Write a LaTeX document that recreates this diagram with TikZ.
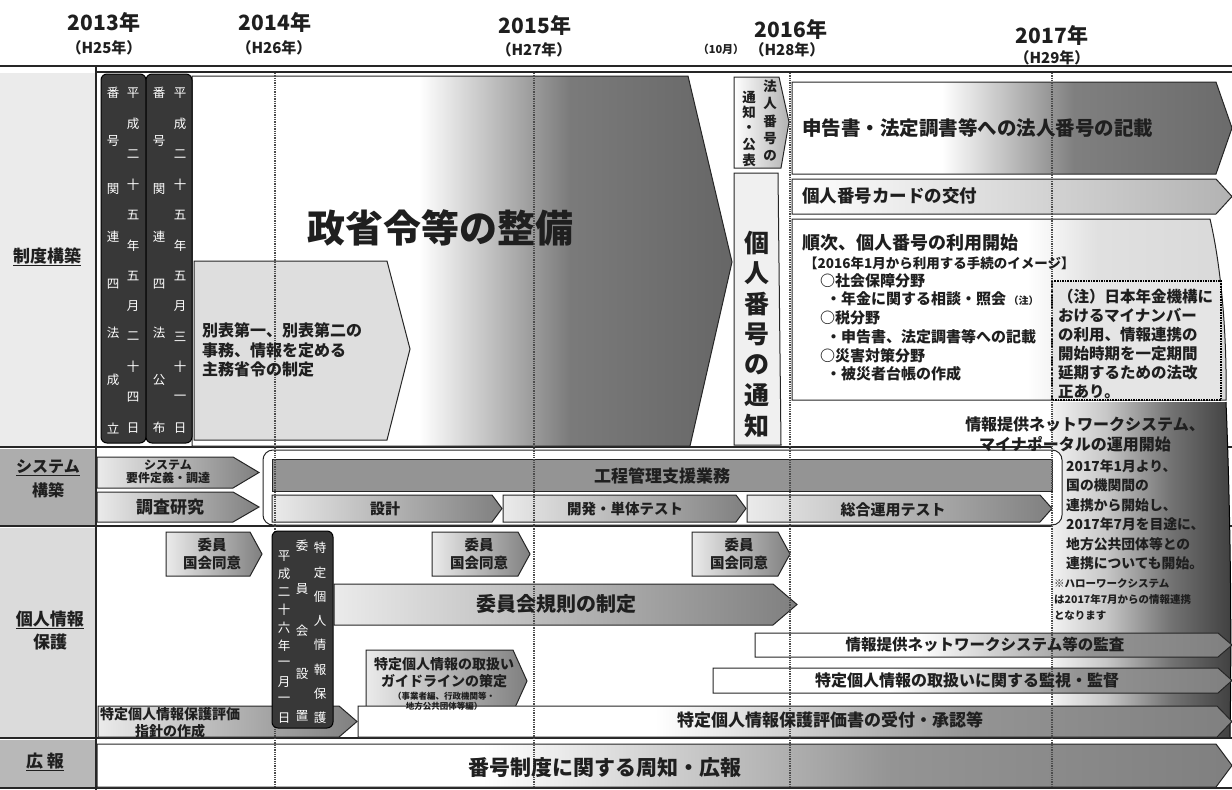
\documentclass[tikz,border=0pt]{standalone}
\usepackage{fontspec}
\setmainfont{Noto Sans CJK JP}
\newcommand\fsz[1]{\fontsize{#1pt}{#1pt}\selectfont}
\newcommand\fsl[2]{\fontsize{#1pt}{#2pt}\selectfont}
\pgfdeclarehorizontalshading{shbig}{100bp}{color(0bp)=(white); color(25bp)=(white); color(46bp)=(white); color(60bp)=(black!52); color(75bp)=(black!60); color(100bp)=(black!60)}
\pgfdeclarehorizontalshading{shsk}{100bp}{color(0bp)=(white); color(25bp)=(white); color(42bp)=(white); color(57bp)=(black!50); color(75bp)=(black!58); color(100bp)=(black!58)}
\pgfdeclarehorizontalshading{shlt}{100bp}{color(0bp)=(white); color(25bp)=(white); color(75bp)=(black!30); color(100bp)=(black!30)}
\pgfdeclarehorizontalshading{shmd}{100bp}{color(0bp)=(white); color(25bp)=(black!8); color(75bp)=(black!50); color(100bp)=(black!50)}
\pgfdeclarehorizontalshading{shlong}{100bp}{color(0bp)=(white); color(25bp)=(white); color(42bp)=(white); color(60bp)=(black!42); color(75bp)=(black!50); color(100bp)=(black!50)}
\pgfdeclarehorizontalshading{shjun}{100bp}{color(0bp)=(white); color(25bp)=(white); color(52bp)=(white); color(60bp)=(black!12); color(75bp)=(black!15); color(100bp)=(black!15)}
\pgfdeclarehorizontalshading{shdark}{100bp}{color(0bp)=(white); color(25bp)=(white!95!black); color(40bp)=(black!22); color(58bp)=(black!55); color(75bp)=(black!75); color(100bp)=(black!75)}
\newcommand\arr[6]{\path[#6] (#1,#2) -- ({#3-#5},#2) -- (#3,{(#2+#4)/2}) -- ({#3-#5},#4) -- (#1,#4) -- cycle;}
\newcommand\vcol[6]{\foreach \c [count=\i] in {#6}{\node[#5] (#1\i) at (#2,{#3+(\i-1)*#4}) {\c};}}
\begin{document}
\begin{tikzpicture}[x=1pt,y=-1pt,
  box/.style={draw=black!85, line width=1pt},
  dk/.style={draw=black, fill=black!78, rounded corners=6pt, line width=1pt},
  gridl/.style={densely dotted, line width=1.3pt, black!70},
  rowl/.style={line width=1.2pt, black!85},
  t/.style={inner sep=0pt, text=black!88},
  vt/.style={inner sep=0pt, text=white, font=\fsz{12.5}},
  vtb/.style={inner sep=0pt, text=black!88, font=\bfseries\fsz{13.5}},
]
\useasboundingbox (0,0) rectangle (1232,790);
\fill[white] (0,0) rectangle (1232,790);
% label column
\fill[black!8] (0,73) rectangle (95,446);
\fill[black!32] (0,449) rectangle (95,525);
\fill[black!14] (0,528) rectangle (95,737);
\fill[black!28] (0,740) rectangle (95,787);
% row lines
\draw[line width=2.4pt, black!85] (0,66) -- (1232,66);
\draw[rowl] (96,72) -- (1232,72);
\draw[rowl] (96,66) -- (96,790);
\draw[rowl] (0,447) -- (1232,447);
\draw[rowl] (0,526) -- (1232,526);
\draw[rowl] (0,738) -- (1232,738);
\draw[rowl] (0,788) -- (1232,788);
% seido
\path[box, shade, shading=shbig] (192,76) -- (688,76) -- (732,262) -- (690,446) -- (192,446) -- cycle;
\path[box, fill=black!13] (194,261) -- (387,261) -- (410,349) -- (387,440) -- (194,440) -- cycle;
\path[box, shade, shading=shlt] (734,77) -- (779,77) -- (789,122) -- (781,168) -- (734,168) -- cycle;
\path[box, fill=black!6] (734,173) -- (778,173) -- (781,445) -- (734,445) -- cycle;
\arr{792}{82}{1232}{174}{16}{box, shade, shading=shsk}
\arr{792}{179}{1232}{214}{16}{box, shade, shading=shlt}
\path[box, shade, shading=shjun] (792,219) -- (1210,219) .. controls (1222,270) and (1227,340) .. (1226,400) -- (792,400) -- cycle;
\draw[densely dotted, line width=1.6pt, fill=black!10] (1052,281) rectangle (1221,400);
% dark region
\path[shade, shading=shdark] (1052,402) -- (1226,402) .. controls (1230,500) and (1232,620) .. (1230,737) -- (1052,737) -- cycle;
\draw[line width=1pt] (1226,402) .. controls (1230,500) and (1232,620) .. (1230,737);
% system
\arr{97}{457}{259}{488}{26}{box, shade, shading=shmd}
\arr{97}{492}{259}{522}{26}{box, shade, shading=shmd}
\draw[box, fill=white, rounded corners=10pt] (263,450) rectangle (1062,525);
\draw[box, fill=black!42] (272,459) rectangle (1052,491);
\arr{272}{495}{502}{522}{10}{box, shade, shading=shmd}
\arr{503}{495}{746}{522}{10}{box, shade, shading=shmd}
\arr{747}{495}{1052}{522}{12}{box, shade, shading=shmd}
% kojin joho
\arr{166}{532}{262}{576}{12}{box, shade, shading=shmd}
\arr{432}{532}{530}{576}{12}{box, shade, shading=shmd}
\arr{692}{532}{790}{576}{12}{box, shade, shading=shmd}
\arr{334}{584}{797}{625}{24}{box, shade, shading=shmd}
\arr{366}{650}{527}{712}{14}{box, shade, shading=shmd}
\arr{755}{633}{1232}{657}{14}{box, shade, shading=shlong}
\arr{713}{668}{1232}{693}{14}{box, shade, shading=shlong}
\arr{98}{706}{357}{737}{18}{box, shade, shading=shmd}
\arr{358}{706}{1232}{737}{15}{box, shade, shading=shlong}
% koho
\arr{97}{744}{1232}{787}{16}{box, shade, shading=shlong}
% grid
\foreach \gx in {275,534,790,1052} \draw[gridl] (\gx,73) -- (\gx,788);
% dark boxes
\draw[dk] (101,74) rectangle (146,443);
\draw[dk] (146,74) rectangle (192,443);
\draw[dk] (272,531) rectangle (333,728);
\vcol{aL}{113}{93}{47.86}{vt}{番,号,関,連,四,法,成,立}
\vcol{aR}{133}{93}{30.45}{vt}{平,成,二,十,五,年,五,月,二,十,四,日}
\vcol{bL}{159}{93}{47.86}{vt}{番,号,関,連,四,法,公,布}
\vcol{bR}{180}{93}{30.45}{vt}{平,成,二,十,五,年,五,月,三,十,一,日}
\vcol{dR}{320}{548}{24.3}{vt}{特,定,個,人,情,報,保,護}
\vcol{dM}{302}{546}{42.5}{vt}{委,員,会,設,置}
\vcol{dL}{284}{556}{18}{vt}{平,成,二,十,六,年,一,月,一,日}
\vcol{hR}{770}{86}{17.5}{vtb}{法,人,番,号,の}
\vcol{hL}{749}{97}{15.8}{vtb}{通,知,・,公,表}
\vcol{kt}{757}{243}{30.5}{inner sep=0pt, text=black!88, font=\bfseries\fsz{25}}{個,人,番,号,の,通,知}
% header
\node[t, font=\bfseries\fsz{21}] (y13) at (104,22) {2013年};
\node[t, font=\bfseries\fsz{15}] (h25) at (104,48) {（H25年）};
\node[t, font=\bfseries\fsz{21}] (y14) at (275,22) {2014年};
\node[t, font=\bfseries\fsz{15}] (h26) at (274,48) {（H26年）};
\node[t, font=\bfseries\fsz{21}] (y15) at (535,25) {2015年};
\node[t, font=\bfseries\fsz{15}] (h27) at (534,50) {（H27年）};
\node[t, font=\bfseries\fsz{11}] (m10) at (721,49) {（10月）};
\node[t, font=\bfseries\fsz{21}] (y16) at (791,29) {2016年};
\node[t, font=\bfseries\fsz{15}] (h28) at (787,50) {（H28年）};
\node[t, font=\bfseries\fsz{21}] (y17) at (1052,35) {2017年};
\node[t, font=\bfseries\fsz{15}] (h29) at (1052,58) {（H29年）};
% row labels
\node[t, font=\bfseries\fsz{17}] (l1) at (47,257) {\underline{制度構築}};
\node[t, font=\bfseries\fsz{16}] (l2a) at (48,468) {\underline{システム}};
\node[t, font=\bfseries\fsz{16}] (l2b) at (48,490) {構築};
\node[t, font=\bfseries\fsz{17}] (l3a) at (50,620) {\underline{個人情報}};
\node[t, font=\bfseries\fsz{17}] (l3b) at (50,642) {保護};
\node[t, font=\bfseries\fsz{17}] (l4) at (45,762) {\underline{広\ 報}};
% seido texts
\node[t, font=\bfseries\fsz{38}] (seisho) at (440,228) {政省令等の整備};
\node[t, font=\bfseries\fsl{16}{19.5}, anchor=west, align=left] (beppyo) at (202,350) {別表第一、別表第二の\\事務、情報を定める\\主務省令の制定};
\node[t, font=\bfseries\fsz{19.5}, anchor=west] (shinkoku) at (802,128) {申告書・法定調書等への法人番号の記載};
\node[t, font=\bfseries\fsz{17.5}, anchor=west] (card) at (802,196) {個人番号カードの交付};
\node[t, font=\bfseries\fsz{18}, anchor=west] (junji) at (802,243) {順次、個人番号の利用開始};
\node[t, font=\bfseries\fsz{13.5}, anchor=west] (image) at (804,263) {【2016年1月から利用する手続のイメージ】};
\node[t, font=\bfseries\fsz{15}, anchor=west] (s1) at (820,281) {○社会保障分野};
\node[t, font=\bfseries\fsz{15}, anchor=west] (s2) at (826,299) {・年金に関する相談・照会\,{\fsz{10}（注）}};
\node[t, font=\bfseries\fsz{15}, anchor=west] (s3) at (820,318) {○税分野};
\node[t, font=\bfseries\fsz{15}, anchor=west] (s4) at (826,337) {・申告書、法定調書等への記載};
\node[t, font=\bfseries\fsz{15}, anchor=west] (s5) at (820,356) {○災害対策分野};
\node[t, font=\bfseries\fsz{15}, anchor=west] (s6) at (826,374) {・被災者台帳の作成};
\node[t, font=\bfseries\fsl{15.5}{19}, anchor=north west, align=left] (chu) at (1058,289) {（注）日本年金機構に\\おけるマイナンバー\\の利用、情報連携の\\開始時期を一定期間\\延期するための法改\\正あり。};
\node[t, font=\bfseries\fsz{16}] (net1) at (1085,424) {情報提供ネットワークシステム、};
\node[t, font=\bfseries\fsz{16}] (net2) at (1075,444) {マイナポータルの運用開始};
\node[t, font=\bfseries\fsl{13.8}{19.5}, anchor=north west, align=left] (y2017) at (1066,459) {2017年1月より、\\国の機関間の\\連携から開始し、\\2017年7月を目途に、\\地方公共団体等との\\連携についても開始。};
\node[t, font=\bfseries\fsl{10.5}{16}, anchor=north west, align=left] (hello) at (1054,578) {※ハローワークシステム\\は2017年7月からの情報連携\\となります};
% system texts
\node[t, font=\bfseries\fsl{12}{13}, align=center] (req) at (168,472) {システム\\要件定義・調達};
\node[t, font=\bfseries\fsz{17}] (chosa) at (170,507) {調査研究};
\node[t, font=\bfseries\fsz{17}] (kotei) at (662,476) {工程管理支援業務};
\node[t, font=\bfseries\fsz{15}] (sekkei) at (385,509) {設計};
\node[t, font=\bfseries\fsz{14.5}] (kaihatsu) at (625,509) {開発・単体テスト};
\node[t, font=\bfseries\fsz{15}] (sogo) at (893,510) {総合運用テスト};
% kojin texts
\node[t, font=\bfseries\fsl{14.5}{18}, align=center] (iin1) at (212,554) {委員\\国会同意};
\node[t, font=\bfseries\fsl{14.5}{18}, align=center] (iin2) at (479,554) {委員\\国会同意};
\node[t, font=\bfseries\fsl{14.5}{18}, align=center] (iin3) at (739,554) {委員\\国会同意};
\node[t, font=\bfseries\fsz{20}] (kisoku) at (556,604) {委員会規則の制定};
\node[t, font=\bfseries\fsz{14}] (gl1) at (444,664) {特定個人情報の取扱い};
\node[t, font=\bfseries\fsz{14}] (gl2) at (444,681) {ガイドラインの策定};
\node[t, font=\bfseries\fsz{8.5}] (gl3) at (444,696) {（事業者編、行政機関等・};
\node[t, font=\bfseries\fsz{8.5}] (gl4) at (444,706) {地方公共団体等編）};
\node[t, font=\bfseries\fsz{15.5}] (kansa) at (985,645) {情報提供ネットワークシステム等の監査};
\node[t, font=\bfseries\fsz{16}] (kanshi) at (967,680) {特定個人情報の取扱いに関する監視・監督};
\node[t, font=\bfseries\fsl{14}{17}, align=center] (shishin) at (170,723) {特定個人情報保護評価\\指針の作成};
\node[t, font=\bfseries\fsz{17}] (hyoka) at (830,720) {特定個人情報保護評価書の受付・承認等};
\node[t, font=\bfseries\fsz{21}] (koho) at (605,768) {番号制度に関する周知・広報};
\end{tikzpicture}
\end{document}
